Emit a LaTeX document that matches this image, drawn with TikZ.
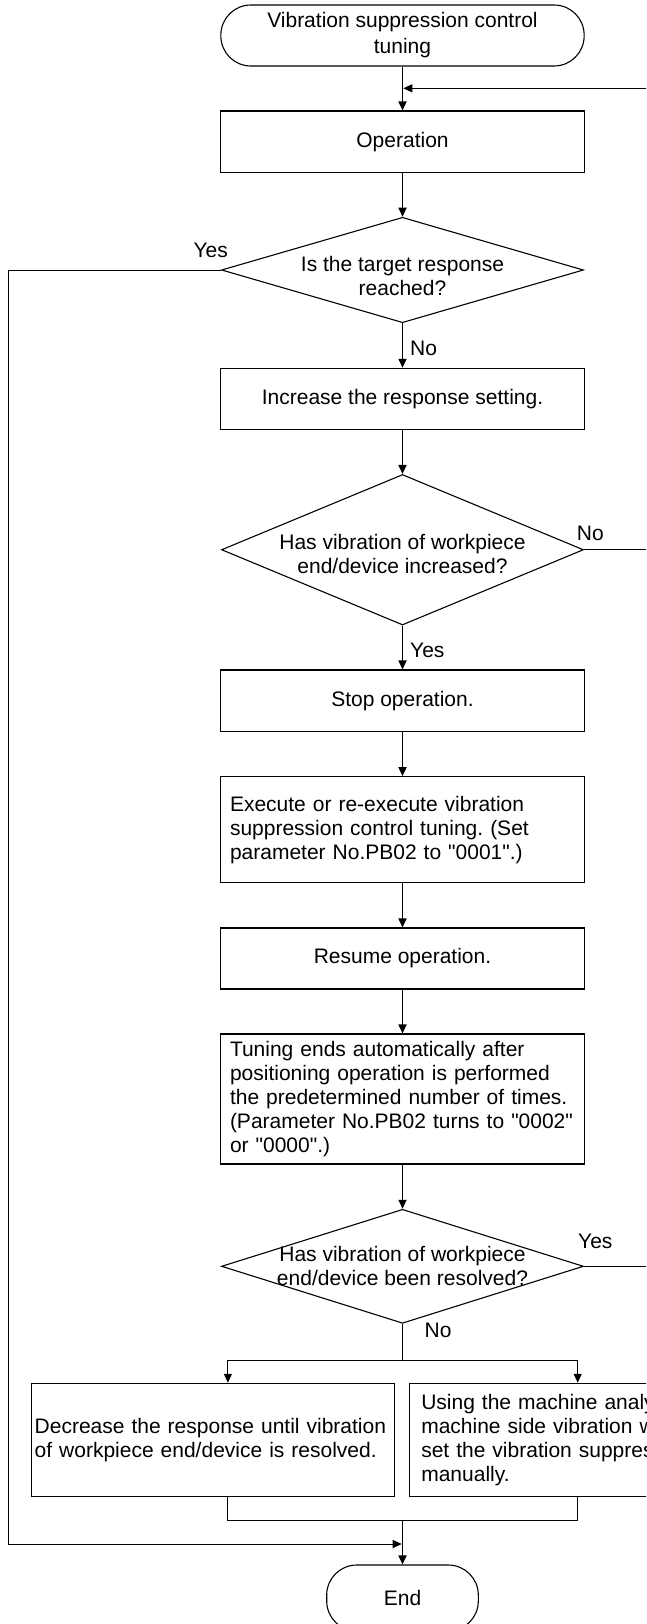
\documentclass[tikz,border=0pt]{standalone}
\usepackage{fontspec}
\setmainfont{Liberation Sans}[Ligatures=TeXOff]
\usetikzlibrary{arrows.meta,shapes.geometric}
\frenchspacing
\tikzset{
  txt/.style={font=\fontsize{21}{24}\selectfont, text=black},
  base/.style={draw=black, line width=1.1pt, txt, inner sep=0pt},
  box/.style={base, rectangle, align=center, minimum width=363.6pt},
  lbox/.style={base, rectangle, align=left, minimum width=363.6pt, text width=345pt},
  term/.style={base, rectangle, rounded corners=30pt, align=center},
  decision/.style={draw=black, line width=1.1pt, diamond, inner sep=0pt, minimum width=362pt},
  lab/.style={txt, inner sep=0pt, align=center},
  arr/.style={draw=black, line width=1.7pt, -{Triangle[length=9pt,width=8pt]}},
  tharr/.style={draw=black, line width=1pt, -{Triangle[length=9pt,width=8pt]}},
  ln/.style={draw=black, line width=1pt},
}
\begin{document}
\frenchspacing
\begin{tikzpicture}[x=1pt, y=-1pt]
\useasboundingbox (0,0) rectangle (646,1624);
\clip (0,0) rectangle (646,1624);
\fill[white] (0,0) rectangle (646,1624);

% nodes
\node[term, minimum width=363.3pt, minimum height=61pt] (start) at (402.5,35.5)
  {Vibration suppression control\\[2pt]tuning};
\node[box, minimum height=61.3pt] (op) at (402.5,141.65) {Operation};
\node[decision, minimum height=105.4pt,
  label={[lab, yshift=-6pt]center:Is the target response\\reached?}] (d1) at (402.5,270) {};
\node[box, minimum height=61pt] (inc) at (402.5,398.8) {Increase the response setting.};
\node[decision, minimum height=150.5pt,
  label={[lab, yshift=-4pt]center:Has vibration of workpiece\\end/device increased?}] (d2) at (402.5,549.75) {};
\node[box, minimum height=61.7pt] (stop) at (402.5,700.85) {Stop operation.};
\node[lbox, minimum height=106pt] (exec) at (402.5,829.7)
  {Execute or re-execute vibration\\suppression control tuning. (Set\\parameter No.PB02 to "0001".)};
\node[box, minimum height=61pt] (resume) at (402.5,958.5) {Resume operation.};
\node[lbox, minimum height=130pt] (tune) at (402.5,1099)
  {Tuning ends automatically after\\positioning operation is performed\\the predetermined number of times.\\(Parameter No.PB02 turns to "0002"\\or "0000".)};
\node[decision, minimum height=114pt,
  label={[lab]center:Has vibration of workpiece\\end/device been resolved?}] (d3) at (402.5,1266.3) {};
\node[base, rectangle, align=left, minimum width=363pt, minimum height=113.4pt, text width=357pt] (lb) at (213.2,1440)
  {Decrease the response until vibration\\of workpiece end/device is resolved.};
\node[base, rectangle, align=left, minimum width=365pt, minimum height=113.4pt, text width=341pt] (rb) at (591.8,1440)
  {Using the machine analyzer or\\machine side vibration waveform,\\set the vibration suppression control\\manually.};
\node[term, minimum width=151.6pt, minimum height=66pt] (end) at (402.5,1598) {End};

% labels
\node[lab] (yes1) at (210.7,250.7) {Yes};
\node[lab, anchor=west] (no1) at (410,348) {No};
\node[lab, anchor=west] (no2) at (576.7,533) {No};
\node[lab, anchor=west] (yes2) at (410,650) {Yes};
\node[lab, anchor=west] (yes3) at (578,1241.7) {Yes};
\node[lab, anchor=west] (no3) at (424.4,1330) {No};

% coordinates
\coordinate (fbR) at (680,549.75);
\coordinate (fbT) at (680,88.3);
\coordinate (fbJ) at (403.3,88.3);
\coordinate (y1T) at (8.5,270);
\coordinate (y1B) at (8.5,1544);
\coordinate (y1J) at (401.7,1544);
\coordinate (y3R) at (680,1266.3);
\coordinate (brC) at (402.5,1360);
\coordinate (brL) at (227.9,1360);
\coordinate (brR) at (577.7,1360);
\coordinate (mgL) at (227.9,1520.7);
\coordinate (mgR) at (577.7,1520.7);
\coordinate (mgC) at (402.5,1520.7);

% main flow
\draw[arr] (start) -- (op);
\draw[arr] (op) -- (d1);
\draw[arr] (d1) -- (inc);
\draw[arr] (inc) -- (d2);
\draw[arr] (d2) -- (stop);
\draw[arr] (stop) -- (exec);
\draw[arr] (exec) -- (resume);
\draw[arr] (resume) -- (tune);
\draw[arr] (tune) -- (d3);

% feedback loop (No)
\draw[tharr] (d2.east) -- (fbR) -- (fbT) -- (fbJ);
% Yes of first decision
\draw[tharr] (d1.west) -- (y1T) -- (y1B) -- (y1J);
% Yes of last decision
\draw[ln] (d3.east) -- (y3R);
% No branch
\draw[ln] (d3.south) -- (brC);
\draw[ln] (brL) -- (brR);
\draw[tharr] (brL) -- (brL |- lb.north);
\draw[tharr] (brR) -- (brR |- rb.north);
% merge
\draw[ln] (lb.south -| mgL) -- (mgL) -- (mgR) -- (rb.south -| mgR);
\draw[arr] (mgC) -- (end);
\end{tikzpicture}
\end{document}
